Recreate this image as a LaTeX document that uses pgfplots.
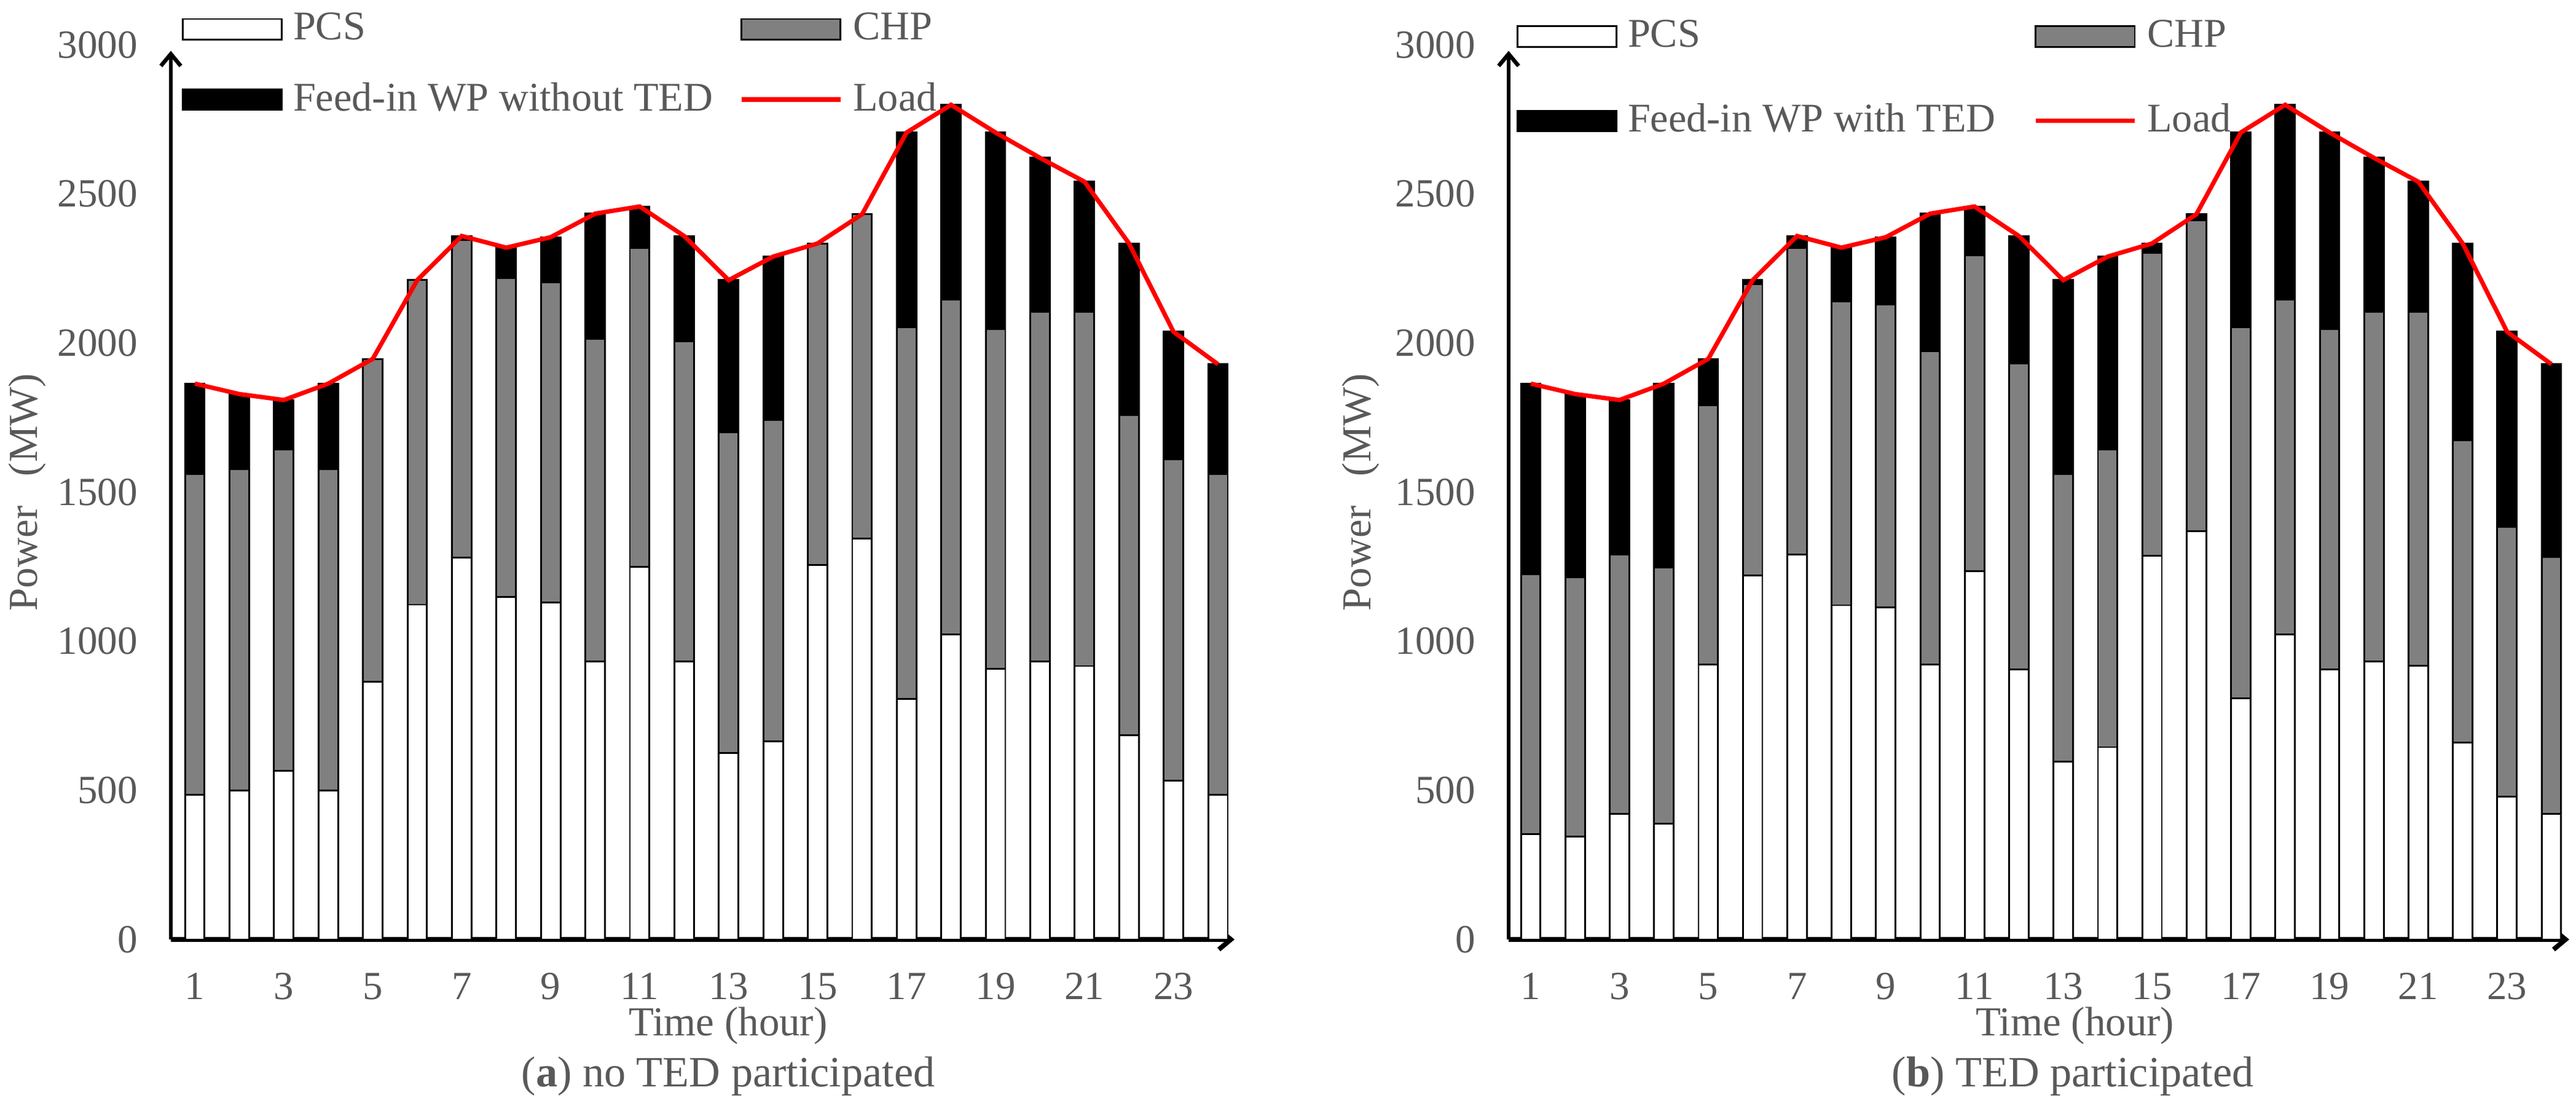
\documentclass[border=0pt]{standalone}
\usepackage{fontspec}
\setmainfont{Liberation Serif}
\usepackage{pgfplots}
\pgfplotsset{compat=1.18}
\usepackage{pgfplotstable}
\usetikzlibrary{arrows.meta}
\definecolor{txtgray}{HTML}{595959}
\definecolor{chpgray}{HTML}{808080}
\definecolor{loadred}{HTML}{FF0000}

\pgfplotstableread{
h pcs chp wp load
1 485 1075 304 1864
2 500 1077 252 1829
3 565 1078 166 1809
4 500 1077 287 1864
5 865 1082 0 1947
6 1123 1088 0 2211
7 1280 1065 14 2359
8 1149 1070 101 2320
9 1131 1073 151 2355
10 932 1082 420 2434
11 1250 1068 140 2458
12 932 1074 353 2359
13 625 1076 510 2211
14 664 1078 548 2290
15 1256 1078 0 2334
16 1344 1088 0 2432
17 806 1247 653 2706
18 1024 1122 653 2799
19 907 1139 660 2706
20 932 1172 517 2621
21 917 1187 437 2541
22 685 1073 576 2334
23 532 1078 428 2038
24 485 1075 369 1929
}\dataA

\pgfplotstableread{
h pcs chp wp load
1 353 871 640 1864
2 346 869 614 1829
3 422 868 519 1809
4 388 860 616 1864
5 923 868 156 1947
6 1220 978 13 2211
7 1290 1030 39 2359
8 1121 1018 181 2320
9 1114 1015 226 2355
10 923 1050 461 2434
11 1235 1059 164 2458
12 906 1026 427 2359
13 596 964 651 2211
14 645 998 647 2290
15 1286 1016 32 2334
16 1369 1042 21 2432
17 808 1245 653 2706
18 1024 1122 653 2799
19 906 1140 660 2706
20 932 1172 517 2621
21 918 1186 437 2541
22 661 1014 659 2334
23 480 904 654 2038
24 422 860 647 1929
}\dataB

\pgfplotsset{
  barlegimg/.style={legend image code/.code={\draw[##1] (0pt,-2.55pt) rectangle (24.8pt,2.55pt);}},
  linelegimg/.style={legend image code/.code={\draw[##1] (0pt,0pt) -- (24.8pt,0pt);}},
  common/.style={
    scale only axis, height=224pt, ymin=0, ymax=3000, clip=false,
  },
  barax/.style={
    common,
    axis lines=left,
    ybar stacked, bar width=0.44,
    xtick={1,3,...,23}, ytick={0,500,...,3000},
    major tick length=0pt,
    ticklabel style={font=\fontsize{10}{12}\selectfont, text=txtgray},
    xticklabel style={anchor=center, yshift=-11.7pt, inner sep=0pt},
    yticklabel style={anchor=east, xshift=-8.15pt, inner sep=0pt},
    /pgf/number format/assume math mode=true,
    /pgf/number format/1000 sep={},
    every outer x axis line/.append style={line width=1.2pt, -{Straight Barb[length=3pt,width=5pt]}},
    every outer y axis line/.append style={line width=1pt, shorten >=1.5pt, -{Straight Barb[length=3pt,width=5pt]}},
    label style={font=\fontsize{10.3}{12}\selectfont, text=txtgray},
    ylabel={Power\hspace{7.4pt}(MW)},
  },
  lineax/.style={
    common, hide axis, barlegimg,
    legend columns=2, legend cell align=left,
    legend style={anchor=north west, draw=none, fill=none, inner sep=0pt, outer sep=0pt,
      font=\fontsize{10.2}{12}\selectfont, text=txtgray,
      nodes={inner sep=0pt, outer sep=0pt},
      /tikz/every odd column/.append style={column sep=2.6pt}},
  },
}

\begin{document}
\begin{tikzpicture}
\useasboundingbox (0,0) rectangle (644.92pt,276.77pt);

% ---------- left panel ----------
\begin{axis}[barax, at={(42.77pt,41.54pt)}, anchor=south west,
  width=266.31pt, xmin=0.461, xmax=24.373,
  xlabel={Time (hour)},
  xlabel style={at={(axis description cs:0.524,0)}, anchor=center, yshift=-21.6pt},
  ylabel style={at={(axis description cs:-0.1348,0.5)}, anchor=center}]
\addplot[fill=white, draw=black, line width=0.45pt] table[x=h,y=pcs]{\dataA};
\addplot[fill=chpgray, draw=black, line width=0.45pt] table[x=h,y=chp]{\dataA};
\addplot[fill=black, draw=black, line width=0.45pt] table[x=h,y=wp]{\dataA};
\node[font=\fontsize{10.8}{13}\selectfont, text=txtgray, anchor=center, yshift=-34.2pt]
  at (rel axis cs:0.524,0) {(\textbf{a}) no TED participated};
\end{axis}
\begin{axis}[lineax, at={(42.77pt,41.54pt)}, anchor=south west,
  width=266.31pt, xmin=0.461, xmax=24.373,
  legend style={at={(0.0104,1.0359)}, row sep=9.2pt,
    /tikz/every even column/.append style={column sep=6.6pt}}]
\addlegendimage{fill=white, draw=black, line width=0.45pt}
\addlegendentry{PCS}
\addlegendimage{fill=chpgray, draw=black, line width=0.45pt}
\addlegendentry{CHP}
\addlegendimage{fill=black, draw=black, line width=0.45pt}
\addlegendentry{Feed-in WP without TED}
\addplot[loadred, line width=1.1pt, mark=none, linelegimg] table[x=h,y=load]{\dataA};
\addlegendentry{Load}
\end{axis}

% ---------- right panel ----------
\begin{axis}[barax, at={(377.69pt,41.54pt)}, anchor=south west,
  width=265.54pt, xmin=0.501, xmax=24.402,
  xlabel={Time (hour)},
  xlabel style={at={(axis description cs:0.534,0)}, anchor=center, yshift=-21.6pt},
  ylabel style={at={(axis description cs:-0.1397,0.5)}, anchor=center}]
\addplot[fill=white, draw=black, line width=0.45pt] table[x=h,y=pcs]{\dataB};
\addplot[fill=chpgray, draw=black, line width=0.45pt] table[x=h,y=chp]{\dataB};
\addplot[fill=black, draw=black, line width=0.45pt] table[x=h,y=wp]{\dataB};
\node[font=\fontsize{10.8}{13}\selectfont, text=txtgray, anchor=center, yshift=-34.2pt]
  at (rel axis cs:0.532,0) {(\textbf{b}) TED participated};
\end{axis}
\begin{axis}[lineax, at={(377.69pt,41.54pt)}, anchor=south west,
  width=265.54pt, xmin=0.501, xmax=24.402,
  legend style={at={(0.0075,1.0277)}, row sep=12.7pt,
    /tikz/every even column/.append style={column sep=9.5pt}}]
\addlegendimage{fill=white, draw=black, line width=0.45pt}
\addlegendentry{PCS}
\addlegendimage{fill=chpgray, draw=black, line width=0.45pt}
\addlegendentry{CHP}
\addlegendimage{fill=black, draw=black, line width=0.45pt}
\addlegendentry{Feed-in WP with TED}
\addplot[loadred, line width=1.1pt, mark=none, linelegimg] table[x=h,y=load]{\dataB};
\addlegendentry{Load}
\end{axis}
\end{tikzpicture}
\end{document}
